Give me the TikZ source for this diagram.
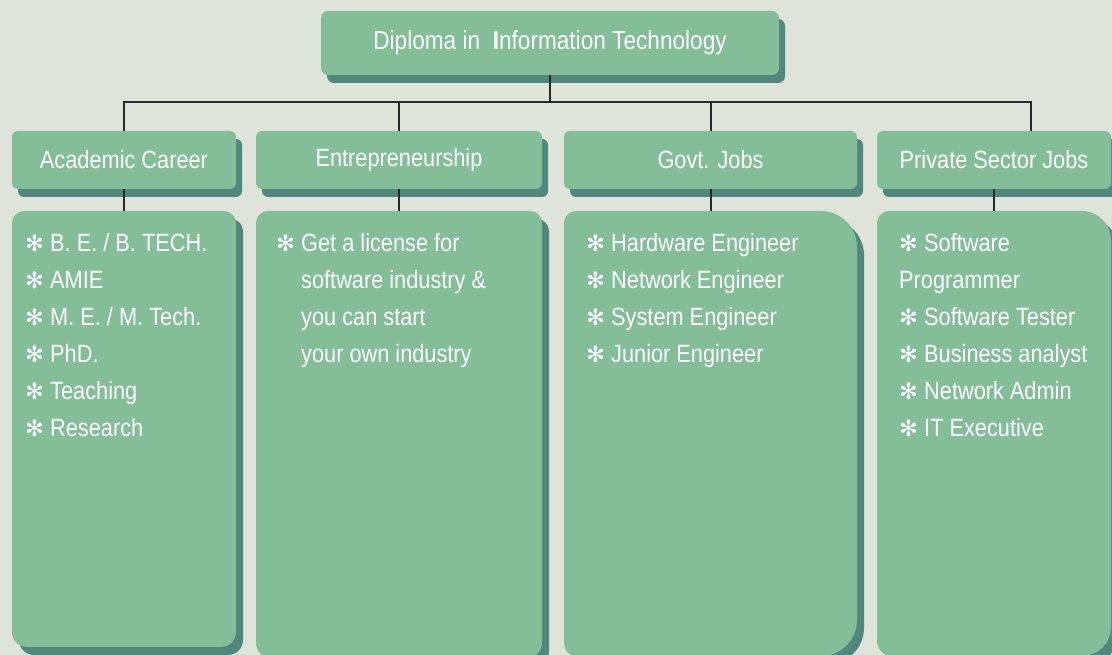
\documentclass[tikz,border=0pt]{standalone}
\usepackage{fontspec}
\setmainfont{Liberation Sans}[FakeStretch=0.87]
\newfontfamily\symfont{DejaVu Sans}
\usetikzlibrary{shadows}
\definecolor{bgc}{RGB}{223,228,218}
\definecolor{boxc}{RGB}{131,190,152}
\definecolor{shc}{RGB}{81,135,124}
\definecolor{linec}{RGB}{40,40,40}
\newcommand\bul{\makebox[25pt][l]{\symfont\fontsize{22.5}{22}\selectfont ✻}}
% x1 x2 ytop ybot rtl rtr rbr rbl style
\newcommand\lshape[9]{%
  \fill[#9] (#1,{#4+#8}) -- (#1,{#3-#5}) arc[start angle=180,end angle=90,radius=#5]
    -- ({#2-#6},#3) arc[start angle=90,end angle=0,radius=#6]
    -- (#2,{#4+#7}) arc[start angle=0,end angle=-90,radius=#7]
    -- ({#1+#8},#4) arc[start angle=270,end angle=180,radius=#8] -- cycle;}
\newcommand\listbox[8]{%
  \lshape{#1}{#2}{#3}{#4}{#5}{#6}{#7}{#8}{shc,xshift=7pt,yshift=-8pt}%
  \lshape{#1}{#2}{#3}{#4}{#5}{#6}{#7}{#8}{boxc}}
\tikzset{
  hdr/.style={fill=boxc, rounded corners=6pt, minimum height=58pt, inner sep=0pt,
    text=white, font=\fontsize{25}{25}\selectfont,
    drop shadow={shadow xshift=6pt, shadow yshift=-8pt, fill=shc, opacity=1}},
  conn/.style={draw=linec, line width=2pt},
  item/.style={anchor=base west, inner sep=0pt, text=white, font=\fontsize{25}{25}\selectfont},
}
\begin{document}
\begin{tikzpicture}[x=1pt,y=1pt]
\useasboundingbox (0,0) rectangle (1112,655);
\fill[bgc] (0,0) rectangle (1112,655);
\clip (0,0) rectangle (1112,655);
% list boxes
\listbox{12}{236}{444}{8}{12}{12}{15}{15}
\listbox{256}{542}{444}{-3}{12}{12}{15}{15}
\listbox{564}{857}{444}{-1}{12}{36}{36}{12}
\listbox{877}{1111}{444}{-1}{12}{29}{29}{15}
% header nodes
\node[hdr, minimum width=458pt, minimum height=64pt, rounded corners=7pt,
  font=\fontsize{26}{26}\selectfont] (top) at (550,612)
  {Diploma in\ \ {\bfseries I}nformation Technology};
\node[hdr, minimum width=224pt] (ac) at (124,495) {Academic Career};
\node[hdr, minimum width=286pt] (en) at (399,495) {Entrepreneurship};
\node[hdr, minimum width=293pt] (gv) at (710.5,495) {Govt. Jobs};
\node[hdr, minimum width=234pt] (pv) at (994,495) {Private Sector Jobs};
% connectors
\coordinate (bus) at (550,553);
\coordinate (pvin) at (1031,524);
\coordinate (acl) at (124,444);
\coordinate (enl) at (399,444);
\coordinate (gvl) at (710.5,444);
\coordinate (pvl) at (994,444);
\draw[conn] (top.south) -- (bus);
\draw[conn] (ac.north) |- (bus);
\draw[conn] (en.north) |- (bus);
\draw[conn] (gv.north) |- (bus);
\draw[conn] (pvin) |- (bus);
\draw[conn] (ac.south) -- (acl);
\draw[conn] (en.south) -- (enl);
\draw[conn] (gv.south) -- (gvl);
\draw[conn] (pv.south) -- (pvl);
% academic items
\node[item] (a1) at (25,403) {\bul B. E. / B. TECH.};
\node[item] (a2) at (25,366) {\bul AMIE};
\node[item] (a3) at (25,329) {\bul M. E. / M. Tech.};
\node[item] (a4) at (25,292) {\bul PhD.};
\node[item] (a5) at (25,255) {\bul Teaching};
\node[item] (a6) at (25,218) {\bul Research};
% entrepreneurship items
\node[item] (e1) at (276,403) {\bul Get a license for};
\node[item] (e2) at (301,366) {software industry \&};
\node[item] (e3) at (301,329) {you can start};
\node[item] (e4) at (301,292) {your own industry};
% govt items
\node[item] (g1) at (586,403) {\bul Hardware Engineer};
\node[item] (g2) at (586,366) {\bul Network Engineer};
\node[item] (g3) at (586,329) {\bul System Engineer};
\node[item] (g4) at (586,292) {\bul Junior Engineer};
% private items
\node[item] (p1) at (899,403) {\bul Software};
\node[item] (p2) at (899,366) {Programmer};
\node[item] (p3) at (899,329) {\bul Software Tester};
\node[item] (p4) at (899,292) {\bul Business analyst};
\node[item] (p5) at (899,255) {\bul Network Admin};
\node[item] (p6) at (899,218) {\bul IT Executive};
\end{tikzpicture}
\end{document}
